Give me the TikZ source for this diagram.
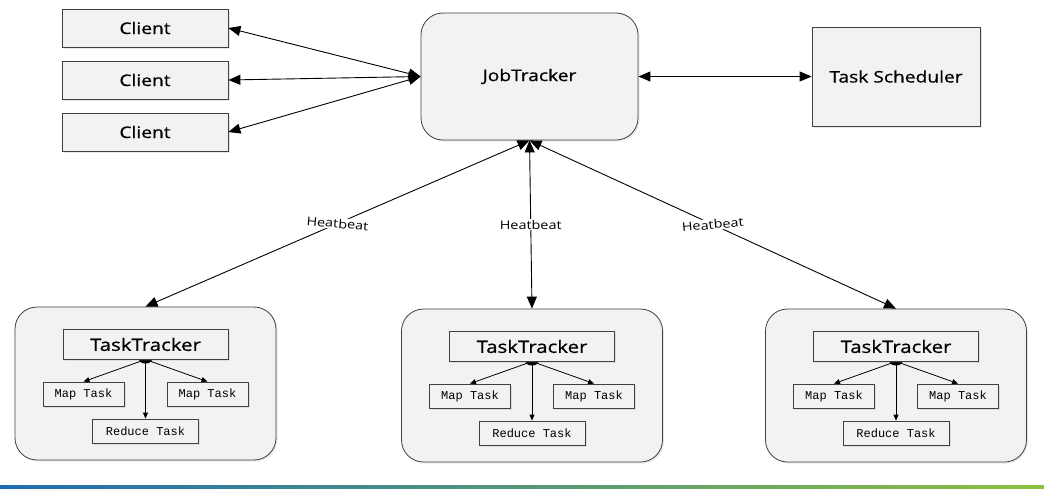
\documentclass[tikz,border=0pt]{standalone}
\usepackage{fontspec}
\setmainfont{Open Sans}[FakeStretch=1.2]
\newfontfamily\boxfont{Open Sans}[FakeStretch=1.2, FakeBold=0.7]
\newfontfamily\taskfont{Liberation Mono}
\usetikzlibrary{arrows.meta,shadows}
\newcommand{\boxGray}[0]{black!5}
\newcommand{\edgeGray}[0]{black!75}
\newcommand{\bigFont}[0]{\boxfont\fontsize{16}{18}\selectfont}
\definecolor{barblue}{HTML}{1E6DB4}
\definecolor{barteal}{HTML}{5EA890}
\definecolor{bargreen}{HTML}{8DC03F}

\begin{document}
\begin{tikzpicture}[x=1pt, y=-1pt]
  \tikzset{
    box/.style={draw=\edgeGray, fill=\boxGray, line width=0.8pt, inner sep=0pt,
      drop shadow={opacity=0.18, shadow xshift=1.5pt, shadow yshift=-1.5pt}},
    roundbox/.style={box, rounded corners=22pt},
    taskbox/.style={box, minimum height=24pt, font=\taskfont\fontsize{12}{13}\selectfont},
    link/.style={line width=0.9pt, {Triangle[length=12pt,width=10pt]}-{Triangle[length=12pt,width=10pt]}},
    sublink/.style={line width=0.8pt, -{Triangle[length=6pt,width=5pt]}},
    beat/.style={fill=white, inner sep=1pt, font=\fontsize{12}{12}\selectfont}
  }
  \useasboundingbox (0,0) rectangle (1044,488);
  \foreach \i/\y in {1/28, 2/80, 3/132}
    \node[box, minimum width=166pt, minimum height=38pt, font=\bigFont] (Client-\i) at (145,\y) {Client};
  \node[roundbox, minimum width=217pt, minimum height=127pt, font=\bigFont] (JT) at (529.5,76.5) {JobTracker};
  \node[box, minimum width=168pt, minimum height=99pt, font=\bigFont] (TS) at (896,76.5) {Task Scheduler};
  \foreach \i/\x/\y in {1/145.5/383.5, 2/532/385.5, 3/896/385.5} {
    \node[roundbox, minimum width=261pt, minimum height=153pt] (TT-\i) at (\x,\y) {};
    \node[taskbox, minimum width=81pt] (Map-\i-1) at (\x-62,\y+10.5) {Map Task};
    \node[taskbox, minimum width=81pt] (Map-\i-2) at (\x+62,\y+10.5) {Map Task};
    \node[taskbox, minimum width=106pt] (Reduce-\i) at (\x,\y+47.5) {Reduce Task};
    \coordinate (TTfoot-\i) at (\x,\y-24);
    \draw[sublink] (TTfoot-\i) -- (Map-\i-1.north);
    \draw[sublink] (TTfoot-\i) -- (Map-\i-2.north);
    \draw[sublink] (TTfoot-\i) -- (Reduce-\i.north);
    \fill (TTfoot-\i) circle[x radius=6.5, y radius=4];
    \node[box, minimum width=165pt, minimum height=30pt, font=\boxfont\fontsize{17}{19}\selectfont] (TTin-\i) at (\x,\y-39) {TaskTracker};
  }
  \foreach \i in {1,2,3}
    \draw[link] (JT.west) -- (Client-\i.east);
  \draw[link] (JT.east) -- (TS.west);
  \draw[link] (JT.south) -- node[beat, rotate=-5] {Heatbeat} (TT-1.north);
  \draw[link] (JT.south) -- node[beat] {Heatbeat} (TT-2.north);
  \draw[link] (JT.south) -- node[beat, rotate=5] {Heatbeat} (TT-3.north);
  \shade[left color=barblue, middle color=barteal, right color=bargreen] (0,485) rectangle (1044,488);
\end{tikzpicture}
\end{document}
